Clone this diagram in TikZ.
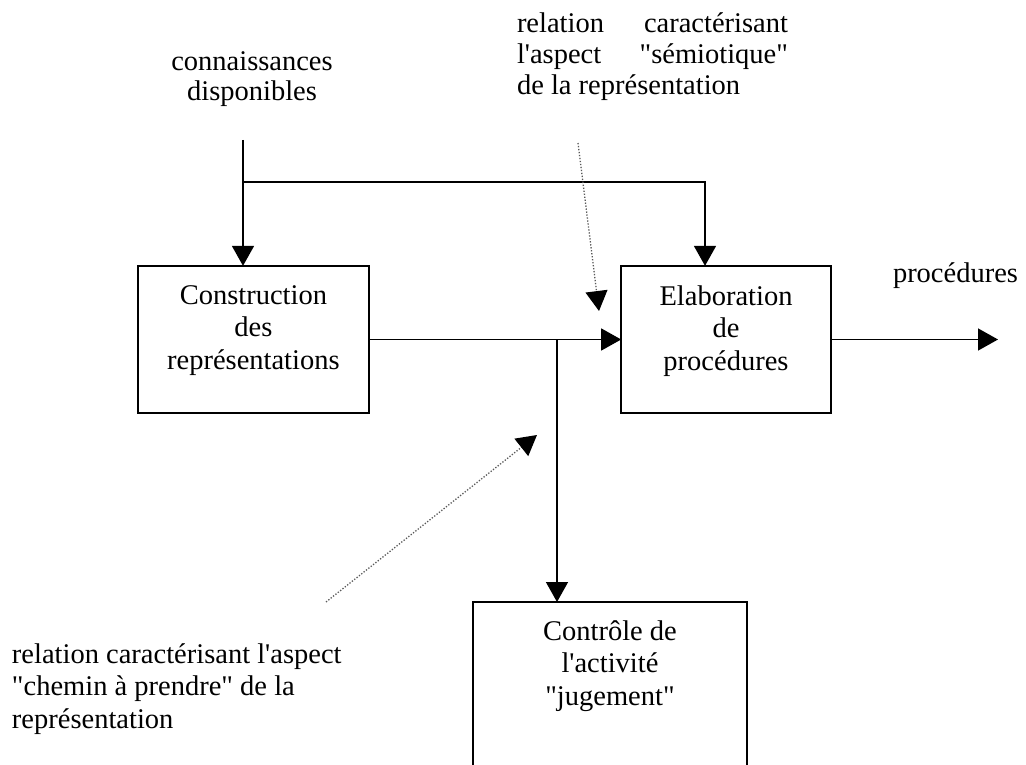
\documentclass[tikz,border=0pt]{standalone}
\usepackage{fontspec}
\newfontfamily\rf{Liberation Serif}
\usetikzlibrary{arrows.meta}
\begin{document}
\begin{tikzpicture}[x=1pt,y=-1pt,
  txt/.style={font=\rf\fontsize{28.5}{32.5}\selectfont, inner sep=0pt, outer sep=0pt},
  box/.style={draw, line width=1.5pt, inner sep=0pt, outer sep=0pt},
  arr/.style={line width=1.5pt, -{Triangle[width=22pt,length=20pt]}},
  dot/.style={line width=1.3pt, black!65, dash pattern=on 1.3pt off 1.7pt,
    -{Triangle[width=22pt,length=20pt,color=black]}}]
\useasboundingbox (0,0) rectangle (1026,765);
\clip (0,0) rectangle (1026,765);
% boxes
\node[box, minimum width=231.3pt, minimum height=147.3pt] (c1) at (253.4,339.5) {};
\node[box, minimum width=209.7pt, minimum height=147.3pt] (c2) at (726,339.5) {};
\node[box, minimum width=274pt, minimum height=200pt] (c3) at (610,702) {};
% box texts
\node[txt, align=center, anchor=north] (c1t) at (253.4,285.5) {Construction\\des\\représentations};
\node[txt, align=center, anchor=north] (c2t) at (726,285.5) {Elaboration\\de\\procédures};
\node[txt, align=center, anchor=north] (c3t) at (610,620.5) {Contrôle de\\l'activité\\"jugement"};
% free texts
\node[txt, align=center, anchor=north, font=\rf\fontsize{28.5}{30.5}\selectfont] (conn) at (252,51.5) {connaissances\\disponibles};
\node[txt, align=left, anchor=north west, font=\rf\fontsize{28.5}{31}\selectfont] (sem) at (517,12.5) {\makebox[271pt][s]{relation caractérisant}\\\makebox[271pt][s]{l'aspect "sémiotique"}\\de la représentation};
\node[txt, anchor=base west] (procl) at (893,282) {procédures};
\node[txt, align=left, anchor=north west] (chem) at (12,643.5) {relation caractérisant l'aspect\\"chemin à prendre" de la\\représentation};
% coordinates
\coordinate (src) at (243,140);
\coordinate (split) at (243,182);
\coordinate (j2) at (705,182);
\coordinate (j3) at (557,339.5);
\coordinate (out) at (998,339.5);
\coordinate (d1s) at (578,143);
\coordinate (d1e) at (599,311);
\coordinate (d2s) at (326,602);
\coordinate (d2e) at (537,435);
% connectors
\draw[arr] (src) -- (c1.north -| src);
\draw[arr] (split) -- (j2) -- (c2.north -| j2);
\draw[arr] (c1.east) -- (c2.west);
\draw[arr] (j3) -- (c3.north -| j3);
\draw[arr] (c2.east) -- (out);
\draw[dot] (d1s) -- (d1e);
\draw[dot] (d2s) -- (d2e);
\end{tikzpicture}
\end{document}
